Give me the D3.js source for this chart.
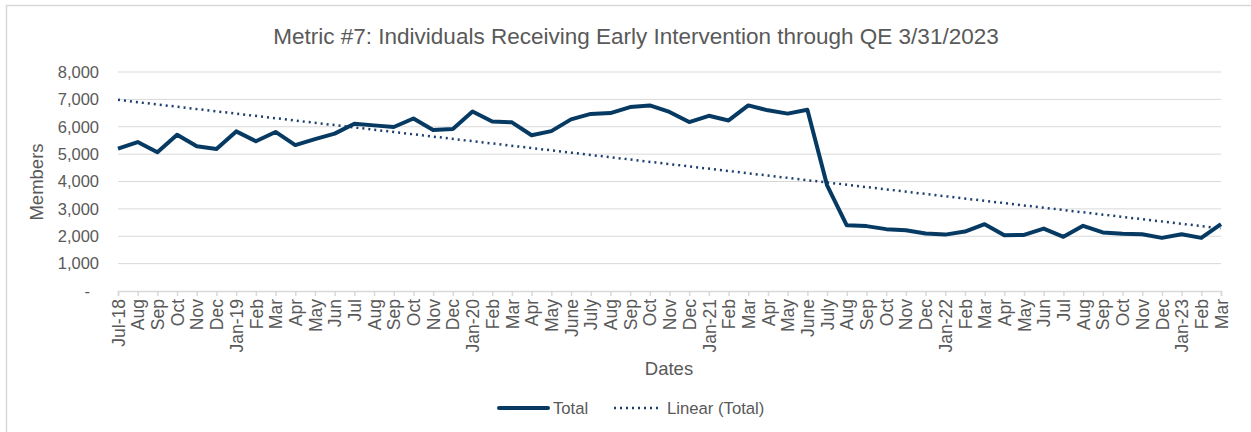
<!DOCTYPE html>
<html>
<head>
<meta charset="utf-8">
<script src="https://cdn.jsdelivr.net/npm/d3@7/dist/d3.min.js"></script>
<style>
  html, body { margin: 0; padding: 0; background: #fff; }
  svg { display: block; font-family: "Liberation Sans", Arial, sans-serif; }
</style>
</head>
<body>
<div id="chart"></div>
<script>
// month labels as shown on the axis
var months = ["Jul-18", "Aug", "Sep", "Oct", "Nov", "Dec",
  "Jan-19", "Feb", "Mar", "Apr", "May", "Jun", "Jul", "Aug", "Sep", "Oct", "Nov", "Dec",
  "Jan-20", "Feb", "Mar", "Apr", "May", "June", "July", "Aug", "Sep", "Oct", "Nov", "Dec",
  "Jan-21", "Feb", "Mar", "Apr", "May", "June", "July", "Aug", "Sep", "Oct", "Nov", "Dec",
  "Jan-22", "Feb", "Mar", "Apr", "May", "Jun", "Jul", "Aug", "Sep", "Oct", "Nov", "Dec",
  "Jan-23", "Feb", "Mar"];

var totals = [5200, 5440, 5070, 5710, 5290, 5190,
  5830, 5470, 5810, 5330, 5550, 5750, 6110, 6050, 5990, 6300, 5880, 5920,
  6560, 6195, 6160, 5690, 5840, 6270, 6470, 6500, 6720, 6780, 6540, 6170,
  6400, 6230, 6780, 6600, 6480, 6620, 3860, 2400, 2370, 2260, 2220, 2100,
  2060, 2170, 2440, 2040, 2050, 2280, 1980, 2380, 2140, 2090, 2070, 1940,
  2070, 1940, 2440];

var yTicks = [0, 1000, 2000, 3000, 4000, 5000, 6000, 7000, 8000];

var W = 1251, H = 432;
var m = { left: 118, right: 30, top: 72, bottom: 141 };
var ink = "#073a62", textCol = "#595959", gridCol = "#d9d9d9";

var svg = d3.select("#chart").append("svg")
  .attr("width", W).attr("height", H);

// outer chart frame
svg.append("rect")
  .attr("x", 6.5).attr("y", 5.5)
  .attr("width", W + 20).attr("height", H + 20)
  .attr("fill", "#fff").attr("stroke", gridCol).attr("stroke-width", 1.5);

var x = d3.scalePoint()
  .domain(d3.range(months.length))
  .range([m.left, W - m.right]);

var y = d3.scaleLinear()
  .domain([0, 8000])
  .range([H - m.bottom, m.top]);

// gridlines
svg.append("g").selectAll("line")
  .data(yTicks.filter(function (d) { return d > 0; }))
  .join("line")
  .attr("x1", m.left).attr("x2", W - m.right)
  .attr("y1", function (d) { return y(d); })
  .attr("y2", function (d) { return y(d); })
  .attr("stroke", gridCol).attr("stroke-width", 1);

// y axis labels
var fmt = function (d) { return d === 0 ? "-" : d3.format(",")(d); };
svg.append("g").selectAll("text")
  .data(yTicks)
  .join("text")
  .attr("x", function (d) { return d === 0 ? 90 : 99; })
  .attr("y", function (d) { return y(d); })
  .attr("dy", "0.35em")
  .attr("text-anchor", "end")
  .attr("font-size", 16.5)
  .attr("fill", textCol)
  .text(fmt);

// x axis
var xAxis = d3.axisBottom(x)
  .tickSize(5)
  .tickFormat(function (i) { return months[i]; });

var gx = svg.append("g")
  .attr("transform", "translate(0," + y(0) + ")")
  .call(xAxis);
gx.select(".domain").attr("stroke", gridCol).attr("stroke-width", 1.5);
gx.selectAll(".tick line").attr("stroke", gridCol).attr("stroke-width", 1.5);
gx.selectAll(".tick text")
  .attr("fill", textCol)
  .attr("font-size", 17.5)
  .attr("font-family", "Liberation Sans, Arial, sans-serif")
  .attr("transform", "rotate(-90)")
  .attr("text-anchor", "end")
  .attr("x", -8).attr("y", 0)
  .attr("dy", "0.35em");

// linear trend (least squares over the series)
var n = totals.length;
var mx = d3.mean(d3.range(n)), my = d3.mean(totals);
var sxy = d3.sum(totals, function (v, i) { return (i - mx) * (v - my); });
var sxx = d3.sum(d3.range(n), function (i) { return (i - mx) * (i - mx); });
var slope = sxy / sxx, icpt = my - slope * mx;

svg.append("line")
  .attr("x1", x(0)).attr("y1", y(icpt))
  .attr("x2", x(n - 1)).attr("y2", y(icpt + slope * (n - 1)))
  .attr("stroke", "#1d3f6e").attr("stroke-width", 2.5)
  .attr("stroke-dasharray", "2,4").attr("stroke-linecap", "butt");

// total line
var line = d3.line()
  .x(function (d, i) { return x(i); })
  .y(function (d) { return y(d); });

svg.append("path")
  .datum(totals)
  .attr("d", line)
  .attr("fill", "none")
  .attr("stroke", ink)
  .attr("stroke-width", 4)
  .attr("stroke-linejoin", "round");

// title
svg.append("text")
  .attr("x", 636).attr("y", 44)
  .attr("text-anchor", "middle")
  .attr("font-size", 22.5)
  .attr("fill", textCol)
  .text("Metric #7: Individuals Receiving Early Intervention through QE 3/31/2023");

// axis titles
svg.append("text")
  .attr("transform", "translate(43,182) rotate(-90)")
  .attr("text-anchor", "middle")
  .attr("font-size", 18.5)
  .attr("fill", textCol)
  .text("Members");

svg.append("text")
  .attr("x", 669).attr("y", 375)
  .attr("text-anchor", "middle")
  .attr("font-size", 18.5)
  .attr("fill", textCol)
  .text("Dates");

// legend
var lg = svg.append("g").attr("transform", "translate(0,408)");
lg.append("line")
  .attr("x1", 499).attr("x2", 548).attr("y1", 0).attr("y2", 0)
  .attr("stroke", ink).attr("stroke-width", 4).attr("stroke-linecap", "round");
lg.append("text")
  .attr("x", 553).attr("y", 0).attr("dy", "0.35em")
  .attr("font-size", 16.7).attr("fill", textCol)
  .text("Total");
lg.append("line")
  .attr("x1", 614).attr("x2", 661).attr("y1", 0).attr("y2", 0)
  .attr("stroke", "#1d3f6e").attr("stroke-width", 2.5)
  .attr("stroke-dasharray", "2,4");
lg.append("text")
  .attr("x", 667).attr("y", 0).attr("dy", "0.35em")
  .attr("font-size", 16.7).attr("fill", textCol)
  .text("Linear (Total)");
</script>
</body>
</html>
